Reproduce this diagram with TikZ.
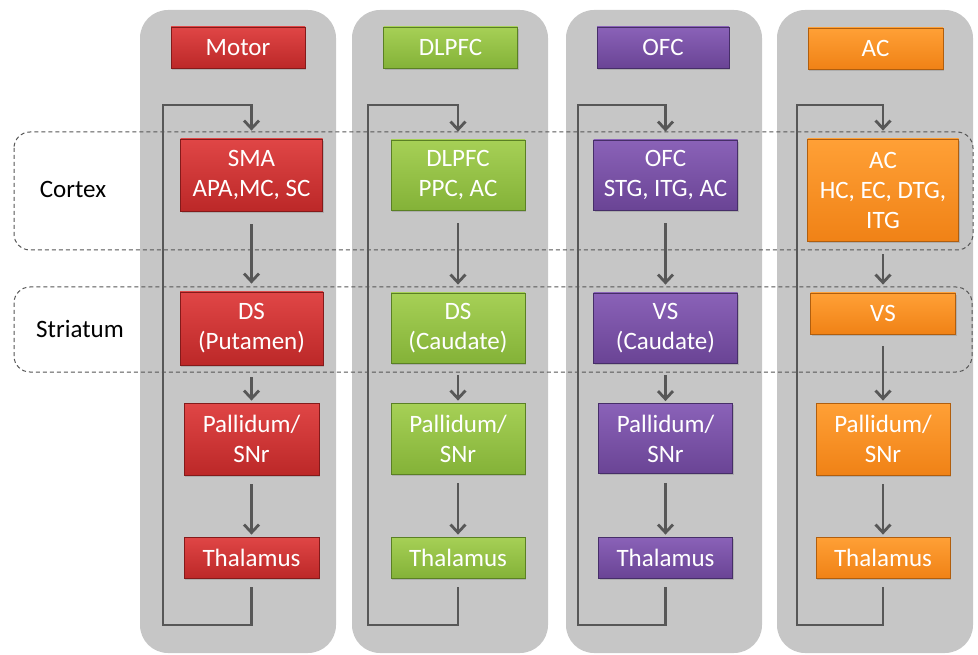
\documentclass[tikz,border=0pt]{standalone}
\usepackage{fontspec}
\setmainfont{Carlito}
\usetikzlibrary{arrows.meta,shadows}
\definecolor{panelc}{HTML}{C6C6C6}
\definecolor{linec}{HTML}{575757}
\definecolor{dashc}{HTML}{555555}
\definecolor{redT}{HTML}{E04646}
\definecolor{redB}{HTML}{BC2828}
\definecolor{redD}{HTML}{841A1A}
\definecolor{grnT}{HTML}{A6D056}
\definecolor{grnB}{HTML}{84B238}
\definecolor{grnD}{HTML}{5A8024}
\definecolor{purT}{HTML}{8A62B8}
\definecolor{purB}{HTML}{6A4495}
\definecolor{purD}{HTML}{462E68}
\definecolor{orgT}{HTML}{FFA036}
\definecolor{orgB}{HTML}{F08216}
\definecolor{orgD}{HTML}{B05E0E}
\tikzset{
  panel/.style={fill=panelc, draw=none, rounded corners=28pt},
  region/.style={draw=dashc, line width=1pt, dash pattern=on 4pt off 3pt, rounded corners=16pt},
  box/.style={rectangle, inner sep=0pt, align=center, text=white,
    font=\fontsize{25}{30}\selectfont, line width=0.8pt,
    drop shadow={shadow xshift=1.2pt, shadow yshift=-1.8pt, opacity=0.35}},
  redbox/.style={box, draw=redD, top color=redT, bottom color=redB},
  grnbox/.style={box, draw=grnD, top color=grnT, bottom color=grnB},
  purbox/.style={box, draw=purD, top color=purT, bottom color=purB},
  orgbox/.style={box, draw=orgD, top color=orgT, bottom color=orgB},
  lbl/.style={font=\fontsize{25}{30}\selectfont, text=black},
  arr/.style={draw=linec, line width=2.8pt, -{Straight Barb[length=8pt,width=15pt]}},
}
\begin{document}
\begin{tikzpicture}[x=1pt,y=-1pt]
\useasboundingbox (0,0) rectangle (978,655);
% panels
\draw[panel] (140,10) rectangle (336,653);
\draw[panel] (352,10) rectangle (548,653);
\draw[panel] (566,10) rectangle (762,653);
\draw[panel] (777,10) rectangle (973,653);
% dashed regions
\draw[region] (14,132) rectangle (973,250);
\draw[region] (14,287) rectangle (972,372);
\node[lbl] (lcortex) at (73,189) {Cortex};
\node[lbl] (lstriatum) at (80,329) {Striatum};
% headers
\node[redbox, minimum width=134pt, minimum height=41pt] (h1) at (238,47.5) {Motor};
\node[grnbox, minimum width=134pt, minimum height=41pt] (h2) at (450.5,47.5) {DLPFC};
\node[purbox, minimum width=132pt, minimum height=41pt] (h3) at (663,47.5) {OFC};
\node[orgbox, minimum width=135pt, minimum height=41pt] (h4) at (875.5,48.5) {AC};
% column 1
\node[redbox, minimum width=142pt, minimum height=72pt] (c1) at (251.5,175) {SMA\\APA,MC, SC};
\node[redbox, minimum width=143pt, minimum height=73pt] (s1) at (251.5,328.5) {DS\\(Putamen)};
\node[redbox, minimum width=135pt, minimum height=72pt] (p1) at (251.5,439) {Pallidum/\\SNr};
\node[redbox, minimum width=135pt, minimum height=41pt] (t1) at (251.5,557.5) {Thalamus};
% column 2
\node[grnbox, minimum width=134pt, minimum height=70pt] (c2) at (458,175) {DLPFC\\PPC, AC};
\node[grnbox, minimum width=134pt, minimum height=70pt] (s2) at (458,328) {DS\\(Caudate)};
\node[grnbox, minimum width=134pt, minimum height=71pt] (p2) at (458,438.5) {Pallidum/\\SNr};
\node[grnbox, minimum width=134pt, minimum height=41pt] (t2) at (458,557.5) {Thalamus};
% column 3
\node[purbox, minimum width=144pt, minimum height=70pt] (c3) at (665.5,175) {OFC\\STG, ITG, AC};
\node[purbox, minimum width=144pt, minimum height=70pt] (s3) at (665.5,328) {VS\\(Caudate)};
\node[purbox, minimum width=134pt, minimum height=70pt] (p3) at (665.5,438.5) {Pallidum/\\SNr};
\node[purbox, minimum width=134pt, minimum height=41pt] (t3) at (665.5,557.5) {Thalamus};
% column 4
\node[orgbox, minimum width=151pt, minimum height=102pt] (c4) at (883,190) {AC\\HC, EC, DTG,\\ITG};
\node[orgbox, minimum width=145pt, minimum height=41pt] (s4) at (883,313.5) {VS};
\node[orgbox, minimum width=134pt, minimum height=72pt] (p4) at (883,439) {Pallidum/\\SNr};
\node[orgbox, minimum width=134pt, minimum height=41pt] (t4) at (883,557.5) {Thalamus};
% loop corners
\coordinate (lb1) at (163,625); \coordinate (lt1) at (163,105);
\coordinate (lb2) at (368,625); \coordinate (lt2) at (368,105);
\coordinate (lb3) at (578,625); \coordinate (lt3) at (578,105);
\coordinate (lb4) at (797,625); \coordinate (lt4) at (797,105);
% arrows
\foreach \i in {1,2,3,4}{
  \draw[arr] ([yshift=-13pt]c\i.south) -- ([yshift=8pt]s\i.north);
  \draw[arr] ([yshift=-12pt]s\i.south) -- ([yshift=2pt]p\i.north);
  \draw[arr] ([yshift=-9pt]p\i.south) -- ([yshift=2pt]t\i.north);
  \draw[arr] ([yshift=-9pt]t\i.south) |- (lb\i) -- (lt\i) -| ([yshift=8pt]c\i.north);
}
\end{tikzpicture}
\end{document}
